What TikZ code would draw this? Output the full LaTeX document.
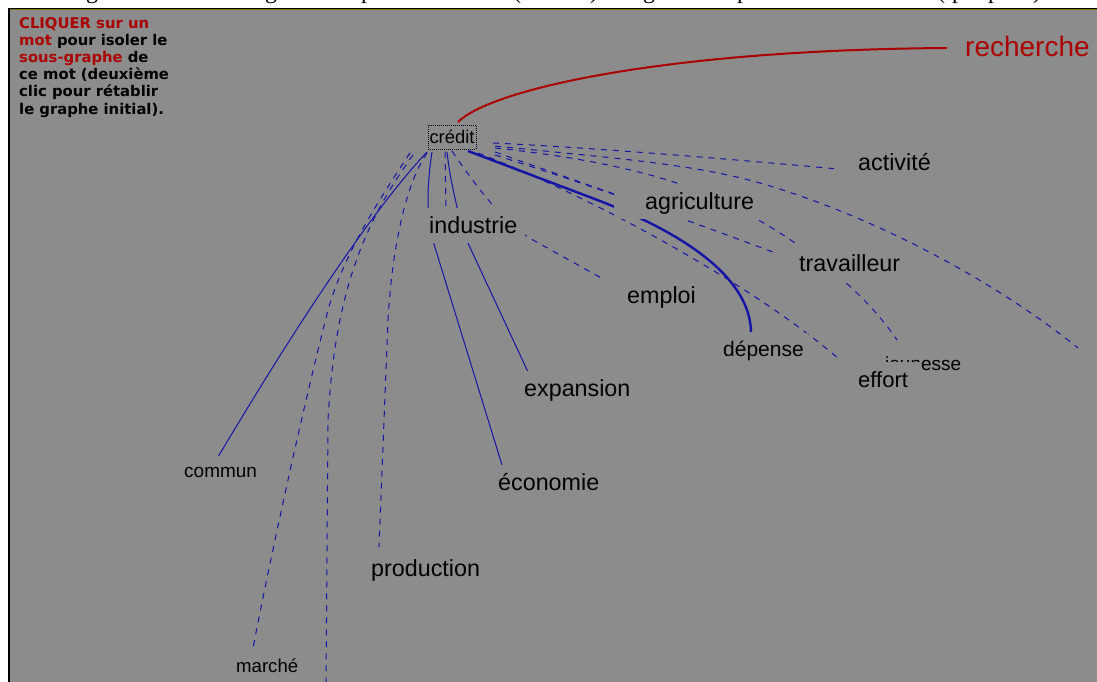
\documentclass[tikz,border=0pt]{standalone}
\usepackage{fontspec}
\setmainfont{Liberation Sans}
\newfontfamily\uifont{DejaVu Sans}
\newfontfamily\capfont{Liberation Serif}
\newcommand\sz[1]{\fontsize{#1pt}{#1pt}\selectfont}
\definecolor{bg}{RGB}{140,140,140}
\definecolor{edgeblue}{RGB}{20,20,165}
\definecolor{redtxt}{RGB}{170,0,0}
\definecolor{olivebar}{RGB}{128,112,0}
\tikzset{
  lbl/.style={anchor=base west, fill=bg, inner xsep=4pt, inner ysep=4pt, text=black,
              font=\sz{23.3}, text height=21pt, text depth=6pt},
  slbl/.style={lbl, font=\sz{19}, text height=17pt, text depth=5pt},
  tl/.style={anchor=base west, inner sep=0pt, font=\uifont\bfseries\sz{14.8}, text=black},
  capg/.style={anchor=base west, inner sep=0pt, font=\capfont\sz{24}, text=black},
  edg/.style={draw=edgeblue, line width=1pt},
  edgd/.style={edg, dash pattern=on 6pt off 6pt},
  edgt/.style={edg, line width=2.4pt},
  redline/.style={draw=redtxt, line width=2pt}
}
\begin{document}
\begin{tikzpicture}[x=1pt,y=-1pt]
\useasboundingbox (0,0) rectangle (1097,682);
\fill[white] (0,0) rectangle (1097,682);
\fill[bg] (9,10) rectangle (1097,682);
\draw[black, line width=1pt] (8,9) -- (1097,9);
\draw[olivebar, line width=1pt] (9.5,10) -- (1097,10);
\draw[black, line width=2pt] (9,8.5) -- (9,682);

% cut-off caption above the frame
\begin{scope}
\clip (0,0) rectangle (1097,8.5);
\node[capg] (g1) at (86,-1) {g};
\node[capg] (g2) at (265,-1) {g};
\node[capg] (g3) at (361,-1) {p};
\node[capg] (g4) at (513,-1) {(};
\node[capg] (g5) at (590,-1) {)};
\node[capg] (g6) at (643,-1) {g};
\node[capg] (g7) at (737,-1) {p};
\node[capg] (g8) at (937,-1) {(};
\node[capg] (g9) at (952,-1) {p};
\node[capg] (g10) at (988,-1) {p};
\node[capg] (g11) at (1033,-1) {)};
\end{scope}

% instructions
\node[tl] (t1) at (19,28.3) {\color{redtxt}CLIQUER sur un};
\node[tl] (t2) at (19,45.4) {{\color{redtxt}mot} pour isoler le};
\node[tl] (t3) at (19,62.6) {{\color{redtxt}sous-graphe} de};
\node[tl] (t4) at (19,79.7) {ce mot (deuxième};
\node[tl] (t5) at (19,96.9) {clic pour rétablir};
\node[tl] (t6) at (19,114) {le graphe initial).};

% connector end points
\coordinate (rs) at (458,122);   \coordinate (re) at (947,48);
\coordinate (s-com) at (427,152); \coordinate (e-com) at (218,457);
\coordinate (s-mar) at (410,153); \coordinate (e-mar) at (252,653);
\coordinate (s-bot) at (413,155); \coordinate (e-bot) at (326,686);
\coordinate (s-pro) at (427,153); \coordinate (e-pro) at (379,547);
\coordinate (s-eco) at (432,152); \coordinate (e-eco) at (502,465);
\coordinate (s-exp) at (447,152); \coordinate (e-exp) at (528,372);
\coordinate (s-ind) at (445,152); \coordinate (e-ind) at (446,209);
\coordinate (s-emp) at (452,151); \coordinate (e-emp) at (605,280);
\coordinate (s-dep) at (468,151); \coordinate (e-dep) at (751,332);
\coordinate (s-eff) at (478,153); \coordinate (e-eff) at (840,360);
\coordinate (s-agr) at (495,152); \coordinate (e-agr) at (617,195);
\coordinate (s-tra) at (495,155); \coordinate (e-tra) at (773,252);
\coordinate (s-jeu) at (495,148); \coordinate (e-jeu) at (897,340);
\coordinate (s-act) at (493,143); \coordinate (e-act) at (838,169);
\coordinate (s-far) at (495,146); \coordinate (e-far) at (1078,348);

% red edge
\draw[redline] (rs) .. controls (490,90) and (660,50) .. (re);

% blue edges
\draw[edg] (s-com) .. controls (379,203) and (309,304) .. (e-com);
\draw[edgd] (s-mar) .. controls (372,210) and (343,258) .. (328,310) .. controls (300,420) and (270,560) .. (e-mar);
\draw[edgd] (s-bot) .. controls (365,222) and (335,290) .. (328,420) -- (e-bot);
\draw[edgd] (s-pro) .. controls (405,185) and (392,250) .. (388,320) -- (e-pro);
\draw[edg] (s-eco) .. controls (427,185) and (426,215) .. (433,241) -- (e-eco);
\draw[edg] (s-exp) .. controls (450,180) and (458,215) .. (467,241) -- (e-exp);
\draw[edgd] (s-ind) -- (e-ind);
\draw[edgd] (s-emp) .. controls (475,185) and (505,225) .. (533,240) -- (e-emp);
\draw[edgt] (s-dep) -- (600,201) .. controls (690,236) and (750,280) .. (e-dep);
\draw[edgd] (s-eff) .. controls (600,200) and (760,290) .. (e-eff);
\draw[edgd] (s-agr) -- (e-agr);
\draw[edgd] (s-tra) .. controls (600,188) and (700,225) .. (e-tra);
\draw[edgd] (s-jeu) .. controls (580,157) and (660,172) .. (720,200) .. controls (790,233) and (860,285) .. (e-jeu);
\draw[edgd] (s-act) .. controls (600,148) and (740,160) .. (e-act);
\draw[edgd] (s-far) .. controls (600,157) and (690,163) .. (760,183) .. controls (880,218) and (1000,285) .. (e-far);

% nodes
\node[draw=black, dash pattern=on 1pt off 1pt, line width=0.8pt, fill=bg, font=\sz{18.4},
      minimum width=48pt, minimum height=24pt, inner sep=0pt, text height=13pt, text depth=1pt]
      (credit) at (452,137) {crédit};
\node[anchor=base west, inner sep=0pt, font=\sz{28}, text=redtxt] (recherche) at (965,57) {recherche};
\node[lbl] (activite) at (854,170) {activité};
\node[lbl, inner xsep=0pt] (agriculture) at (614,209) {\hspace*{31pt}agriculture\hspace*{10pt}};
\node[lbl] (industrie) at (425,233) {industrie\hspace*{4pt}};
\node[lbl] (travailleur) at (795,271) {travailleur};
\node[lbl] (emploi) at (623,303) {emploi};
\node[lbl, font=\sz{21}, text height=19pt] (depense) at (719,356) {dépense};
\node[slbl] (jeunesse) at (881,370) {jeunesse};
\node[lbl, font=\sz{22}, inner xsep=0pt] (effort) at (850,387) {\hspace*{8pt}effort\hspace*{13pt}};
\node[lbl] (expansion) at (520,396) {expansion};
\node[lbl] (economie) at (494,490) {économie};
\node[slbl] (commun) at (180,477) {commun};
\node[lbl] (production) at (367,576) {production};
\node[slbl, font=\sz{18.6}] (marche) at (232,672) {marché};
\end{tikzpicture}
\end{document}
